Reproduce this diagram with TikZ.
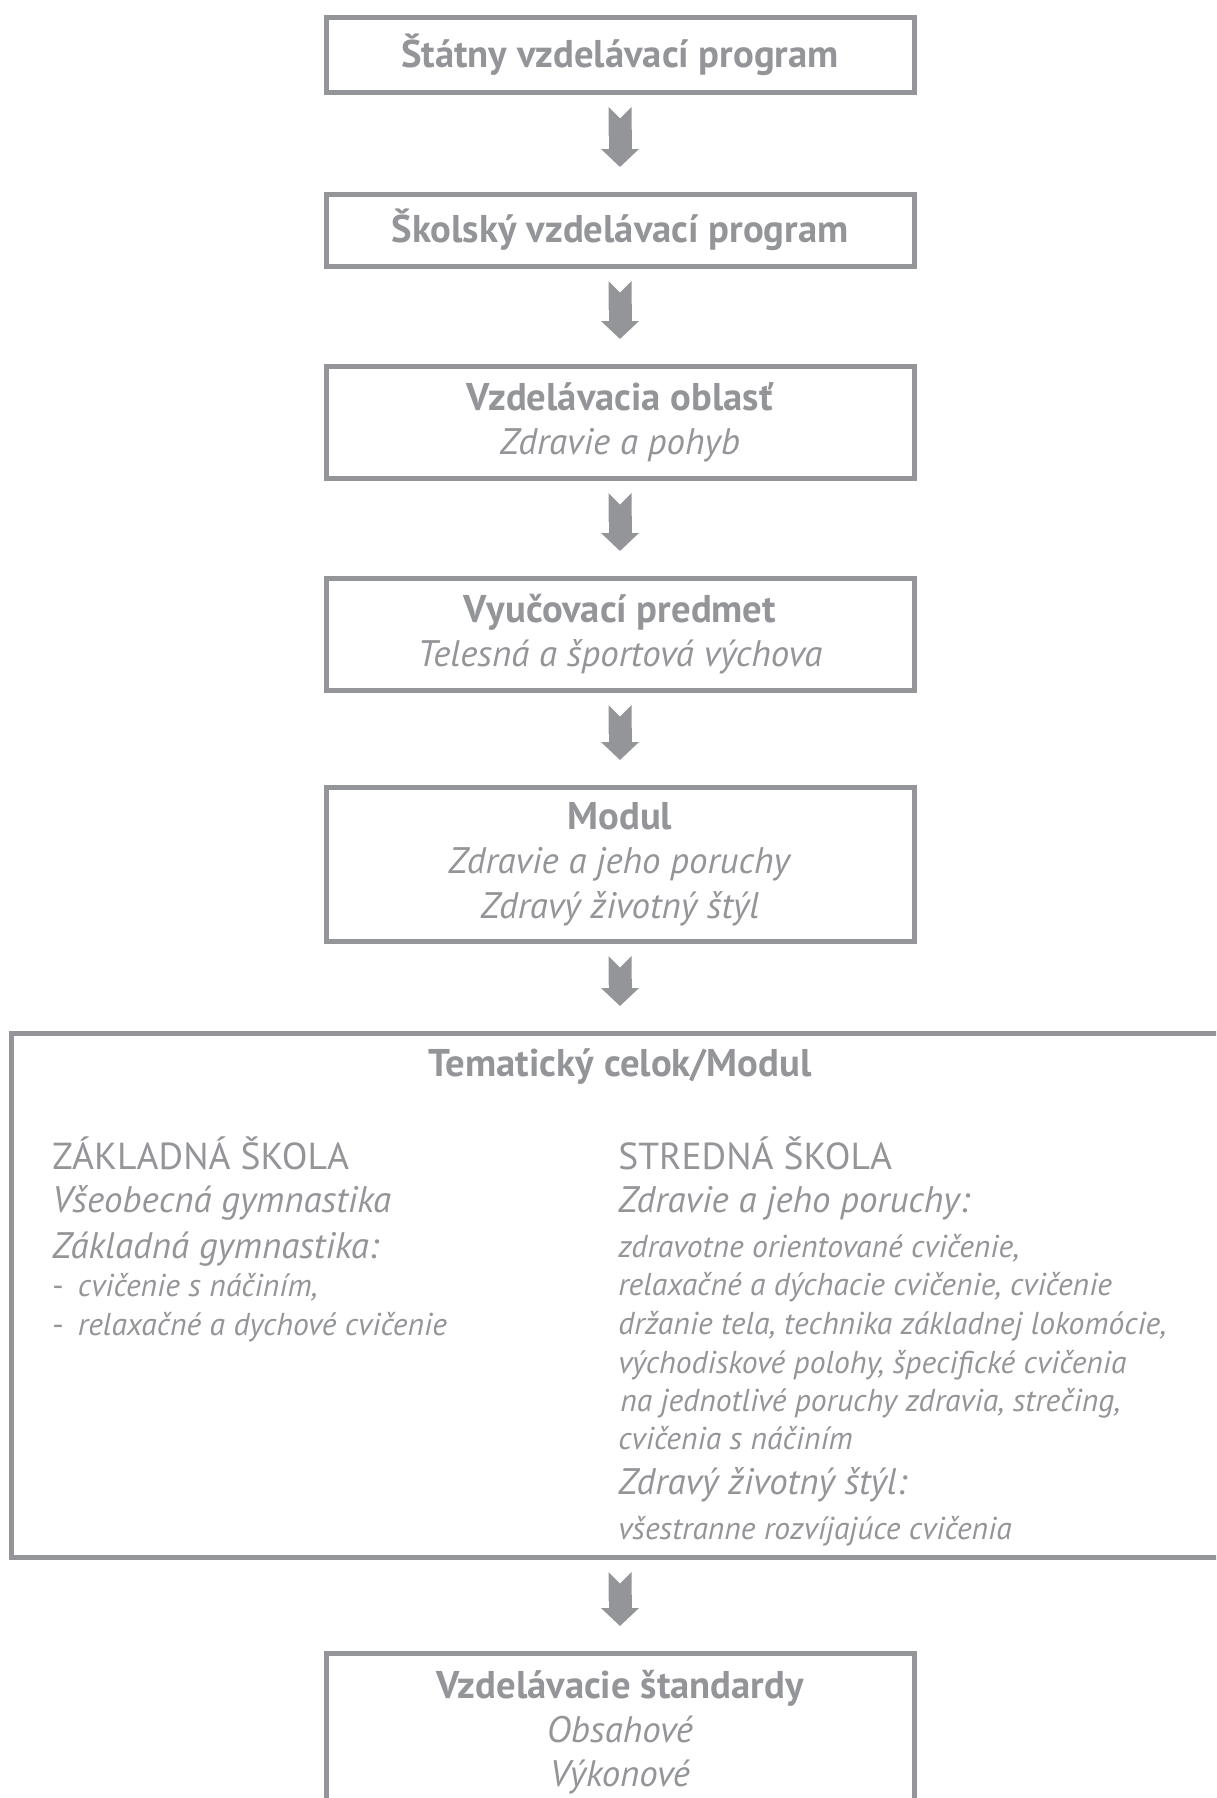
\documentclass[tikz,border=0pt]{standalone}
\usepackage{fontspec}
\setmainfont{PT Sans}
\usetikzlibrary{arrows.meta,positioning}
\definecolor{schemaGray}{RGB}{147,149,152}
\newcommand\levelhead[1]{{\fontsize{22}{25.2}\selectfont\bfseries #1}}

\begin{document}
\begin{tikzpicture}[
  every node/.style={text=schemaGray},
  levelbox/.style={draw=schemaGray,line width=0.1cm,minimum width=11.76cm,minimum height=#1,align=center,inner sep=0pt,outer sep=0pt,font=\fontsize{21}{25.2}\selectfont},
  colhead/.style={anchor=base west,inner sep=0pt,font=\fontsize{21.4}{26}\selectfont},
  colsub/.style={anchor=base west,inner sep=0pt,font=\fontsize{21}{25}\selectfont\itshape},
  colitem/.style={anchor=base west,inner sep=0pt,font=\fontsize{18}{21}\selectfont\itshape},
  flow/.style={draw=schemaGray,line width=0.46cm,{Triangle Cap[reversed]}-{Triangle[width=0.74cm,length=0.36cm]},shorten <=0.3cm,shorten >=0.54cm}
]
  \useasboundingbox (0,0) rectangle (24.32,-35.96);
  \clip (0,0) rectangle (24.32,-35.96);

  \node[levelbox=1.5cm]  (stat) at (12.4,-1.09) {\levelhead{Štátny vzdelávací program}};
  \node[levelbox=1.44cm] (skol) at (12.4,-4.6) {\levelhead{Školský vzdelávací program}};
  \node[levelbox=2.24cm] (obl)  at (12.4,-8.44) {\levelhead{Vzdelávacia oblasť}\\\textit{Zdravie a pohyb}};
  \node[levelbox=2.24cm] (pred) at (12.4,-12.68) {\levelhead{Vyučovací predmet}\\\textit{Telesná a športová výchova}};
  \node[levelbox=3.08cm] (mod)  at (12.4,-17.28) {\levelhead{Modul}\\\textit{Zdravie a jeho poruchy}\\\textit{Zdravý životný štýl}};

  % tematicky celok, right edge runs off the page
  \node[levelbox=10.48cm,minimum width=24.76cm] (celok) at (12.62,-25.9) {};
  \node[inner sep=0pt] (celokT) at (12.4,-21.34) {\levelhead{Tematický celok/Modul}};

  \node[colhead] (zs)  at (1.04,-23.38) {ZÁKLADNÁ ŠKOLA};
  \node[colsub]  (zsA) at (1.04,-24.24) {Všeobecná gymnastika};
  \node[colsub]  (zsB) at (1.04,-25.16) {Základná gymnastika:};
  \node[colitem] (zsC) at (1.04,-25.92) {\textup{-}\hspace{0.45em}cvičenie s náčiním,};
  \node[colitem] (zsD) at (1.04,-26.70) {\textup{-}\hspace{0.45em}relaxačné a dychové cvičenie};

  \node[colhead] (ss)  at (12.36,-23.38) {STREDNÁ ŠKOLA};
  \node[colsub]  (ssA) at (12.36,-24.24) {Zdravie a jeho poruchy:};
  \node[colitem] (ssB) at (12.36,-25.14) {zdravotne orientované cvičenie,};
  \node[colitem] (ssC) at (12.36,-25.90) {relaxačné a dýchacie cvičenie, cvičenie};
  \node[colitem] (ssD) at (12.36,-26.68) {držanie tela, technika základnej lokomócie,};
  \node[colitem] (ssE) at (12.36,-27.46) {východiskové polohy, špecifické cvičenia};
  \node[colitem] (ssF) at (12.40,-28.22) {na jednotlivé poruchy zdravia, strečing,};
  \node[colitem] (ssG) at (12.36,-28.98) {cvičenia s náčiním};
  \node[colsub]  (ssH) at (12.36,-29.88) {Zdravý životný štýl:};
  \node[colitem] (ssI) at (12.36,-30.78) {všestranne rozvíjajúce cvičenia};

  \node[levelbox=3.16cm] (std) at (12.4,-34.64) {\levelhead{Vzdelávacie štandardy}\\\textit{Obsahové}\\\textit{Výkonové}};

  \draw[flow] (stat) -- (skol);
  \draw[flow] (skol) -- (obl);
  \draw[flow] (obl) -- (pred);
  \draw[flow] (pred) -- (mod);
  \draw[flow] (mod) -- (celok.north -| mod.south);
  \draw[flow] (celok.south -| std.north) -- (std);
\end{tikzpicture}
\end{document}
